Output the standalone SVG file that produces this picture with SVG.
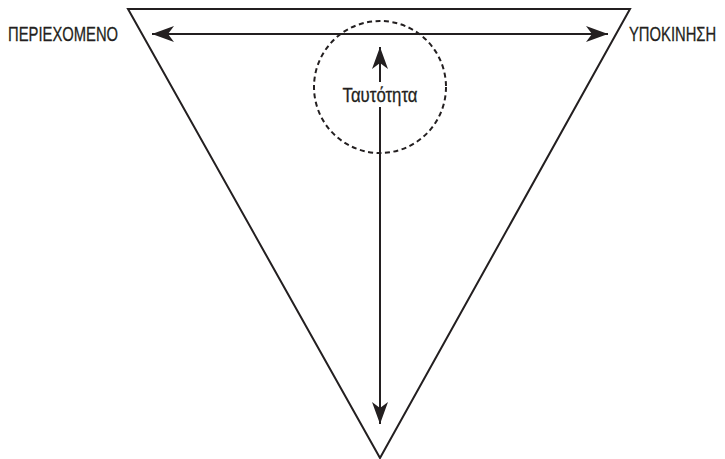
<svg xmlns="http://www.w3.org/2000/svg" width="725" height="459" viewBox="0 0 725 459">
<style>
.ln{stroke:#231f20;stroke-width:2;fill:none}
.lbl{font-family:"Liberation Sans","DejaVu Sans",sans-serif;fill:#231f20;stroke:#231f20;stroke-width:0.3}
</style>
<defs>
<marker id="ah" markerUnits="userSpaceOnUse" markerWidth="26" markerHeight="20" viewBox="-24 -10 26 20" refX="0" refY="0" orient="auto">
<path d="M0,0 L-22,-8 L-16,0 L-22,8 Z" fill="#231f20"/>
</marker>
</defs>
<rect width="725" height="459" fill="#ffffff"/>
<g id="triangle">
<path class="ln" d="M128,9 L630,9 L380,458 Z" stroke-linejoin="miter"/>
</g>
<g id="identity-circle">
<circle cx="380" cy="87" r="66" class="ln" stroke-dasharray="5,3.5"/>
<text class="lbl" x="380" y="102" font-size="21" text-anchor="middle" textLength="75" lengthAdjust="spacingAndGlyphs">Ταυτότητα</text>
</g>
<g id="content-label">
<text class="lbl" transform="translate(8,41) scale(0.74,1)" x="0" y="0" font-size="20">ΠΕΡΙΕΧΟΜΕΝΟ</text>
</g>
<g id="motivation-label">
<text class="lbl" transform="translate(629,41) scale(0.74,1)" x="0" y="0" font-size="20">ΥΠΟΚΙΝΗΣΗ</text>
</g>
<g id="connectors">
<line class="ln" x1="380" y1="34" x2="152" y2="34" marker-end="url(#ah)"/>
<line class="ln" x1="380" y1="34" x2="608" y2="34" marker-end="url(#ah)"/>
<line class="ln" x1="380" y1="82" x2="380" y2="47" marker-end="url(#ah)"/>
<line class="ln" x1="380" y1="107" x2="380" y2="424" marker-end="url(#ah)"/>
</g>
</svg>
